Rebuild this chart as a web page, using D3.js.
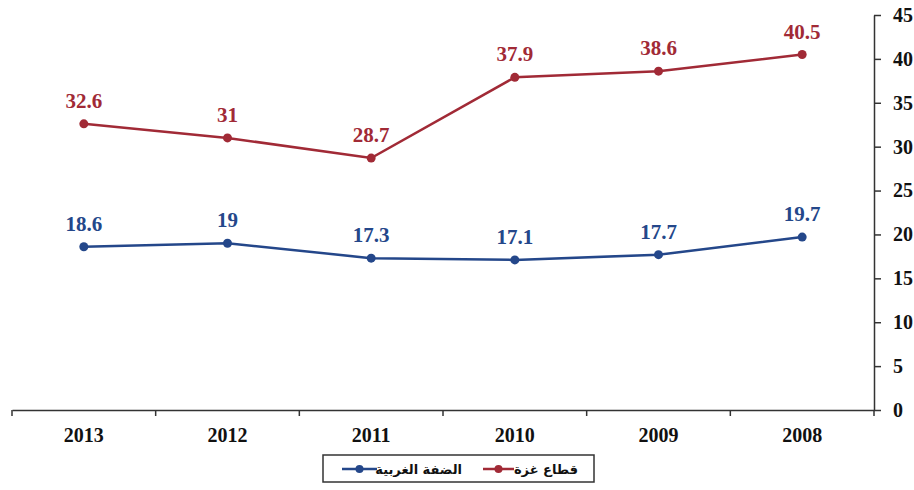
<!DOCTYPE html>
<html>
<head>
<meta charset="utf-8">
<script src="https://cdn.jsdelivr.net/npm/d3@7"></script>
<style>
  html, body { margin: 0; padding: 0; background: #ffffff; }
  svg { display: block; }
</style>
</head>
<body>
<svg id="chart" width="914" height="490"></svg>
<script>
const years = ["2013", "2012", "2011", "2010", "2009", "2008"];
const gaza = [32.6, 31, 28.7, 37.9, 38.6, 40.5];
const westBank = [18.6, 19, 17.3, 17.1, 17.7, 19.7];
const yTicks = [0, 5, 10, 15, 20, 25, 30, 35, 40, 45];
const seriesNames = ["قطاع غزة", "الضفة الغربية"];

const colors = { gaza: "#a12a36", west: "#24478a" };
const svg = d3.select("#chart");

const x = d3.scaleBand().domain(years).range([12, 874]).padding(0);
const y = d3.scaleLinear().domain([0, 45]).range([410, 15]);

const serif = "'Liberation Serif', 'Times New Roman', serif";

// X axis
const xAxis = svg.append("g").attr("transform", "translate(0,410)")
  .call(d3.axisBottom(x).tickSize(0).tickSizeOuter(0).tickPadding(0));
xAxis.select(".domain").attr("stroke", "#333").attr("stroke-width", 1.5);
xAxis.selectAll("text").attr("font-family", serif).attr("font-weight", "bold")
  .attr("font-size", 20).attr("fill", "#111").attr("y", 32).attr("dy", null);
const boundaries = years.map(d => x(d)).concat([x.range()[1]]);
xAxis.selectAll(".bt").data(boundaries).enter().append("line")
  .attr("x1", d => d).attr("x2", d => d).attr("y1", 0).attr("y2", 6)
  .attr("stroke", "#333").attr("stroke-width", 1.5);

// Y axis (right)
const yAxis = svg.append("g").attr("transform", "translate(874,0)")
  .call(d3.axisRight(y).tickValues(yTicks).tickSize(7).tickSizeOuter(0).tickPadding(12));
yAxis.select(".domain").attr("stroke", "#333").attr("stroke-width", 1.5);
yAxis.selectAll(".tick line").attr("stroke", "#333").attr("stroke-width", 1.5);
yAxis.selectAll("text").attr("font-family", serif).attr("font-weight", "bold")
  .attr("font-size", 20).attr("fill", "#111");

const cx = d => x(d) + x.bandwidth() / 2;

function drawSeries(vals, color) {
  const data = years.map((yr, i) => ({ yr, v: vals[i] }));
  const line = d3.line().x(d => cx(d.yr)).y(d => y(d.v));
  svg.append("path").datum(data).attr("d", line)
    .attr("fill", "none").attr("stroke", color).attr("stroke-width", 2.5);
  svg.selectAll(null).data(data).enter().append("circle")
    .attr("cx", d => cx(d.yr)).attr("cy", d => y(d.v)).attr("r", 4.5)
    .attr("fill", color);
  svg.selectAll(null).data(data).enter().append("text")
    .attr("x", d => cx(d.yr)).attr("y", d => y(d.v) - 16)
    .attr("text-anchor", "middle")
    .attr("font-family", serif).attr("font-weight", "bold").attr("font-size", 21)
    .attr("fill", color).text(d => d.v);
}
drawSeries(gaza, colors.gaza);
drawSeries(westBank, colors.west);

// Legend
const lg = svg.append("g");
lg.append("rect").attr("x", 323).attr("y", 455).attr("width", 271).attr("height", 27)
  .attr("fill", "#fff").attr("stroke", "#333").attr("stroke-width", 1.5);
const legendItems = [
  { name: seriesNames[0], color: colors.gaza, x1: 483, x2: 514, tx: 578 },
  { name: seriesNames[1], color: colors.west, x1: 342, x2: 377, tx: 462 }
];
legendItems.forEach(it => {
  lg.append("line").attr("x1", it.x1).attr("x2", it.x2).attr("y1", 469).attr("y2", 469)
    .attr("stroke", it.color).attr("stroke-width", 2.5);
  lg.append("circle").attr("cx", (it.x1 + it.x2) / 2).attr("cy", 469).attr("r", 4)
    .attr("fill", it.color);
  lg.append("text").attr("x", it.tx).attr("y", 474).attr("text-anchor", "end")
    .attr("font-family", "'DejaVu Sans', 'Noto Sans', sans-serif").attr("font-weight", "bold")
    .attr("font-size", 13).attr("fill", "#111").text(it.name);
});
</script>
</body>
</html>
